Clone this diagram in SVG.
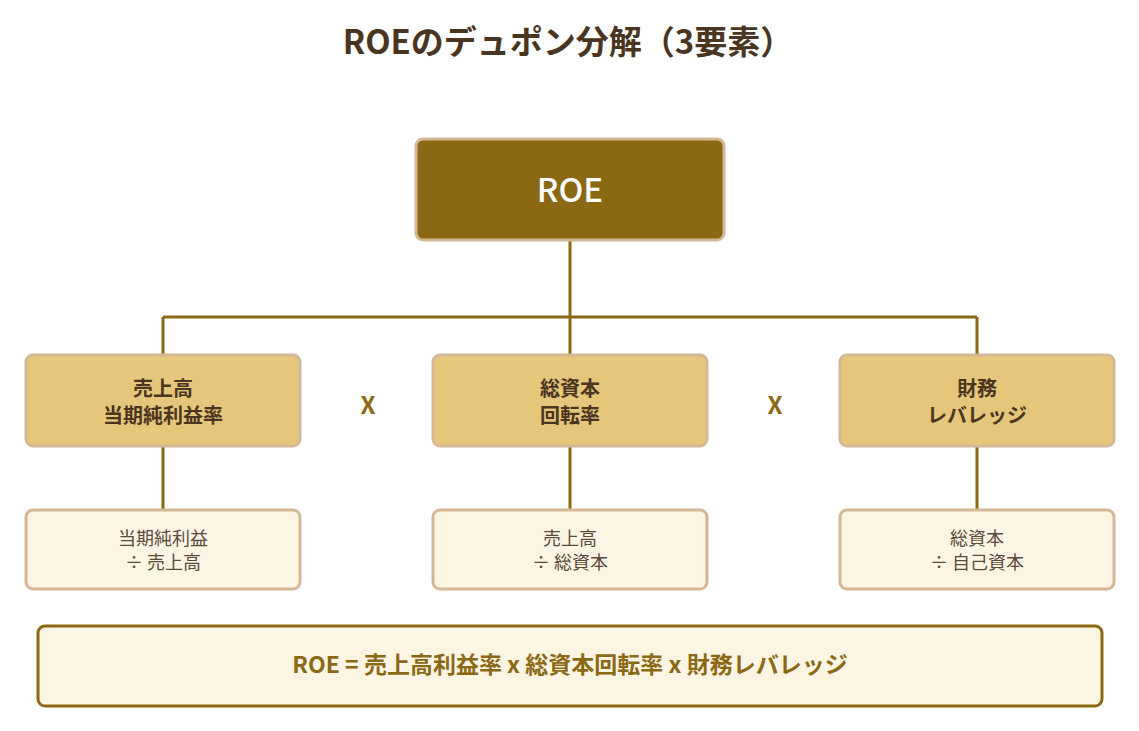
<svg xmlns="http://www.w3.org/2000/svg" width="1139" height="731" viewBox="0 0 1139 731">
<style>
text{font-family:"Noto Sans CJK JP","Noto Sans",sans-serif;text-anchor:middle;dominant-baseline:central}
.title{font-size:33px;font-weight:bold;fill:#4a3520}
.root{fill:#8B6914;stroke:#D4B896;stroke-width:3}
.rootT{font-size:33px;font-weight:500;fill:#ffffff}
.mid{fill:#E6C67A;stroke:#D4B896;stroke-width:3}
.midT{font-size:20px;font-weight:bold;fill:#4a3520}
.leaf{fill:#FDF5E4;stroke:#D4B896;stroke-width:3}
.leafT{font-size:18px;fill:#5a4a3a}
.op{font-size:24px;font-weight:bold;fill:#8B6914}
.conn{stroke:#8B6914;stroke-width:3;fill:none}
.formula{fill:#FDF5E4;stroke:#8B6914;stroke-width:3}
.formT{font-size:23px;font-weight:bold;fill:#8B6914}
</style>
<rect width="1139" height="731" fill="#ffffff"/>
<text class="title" x="568" y="40">ROEのデュポン分解（3要素）</text>
<g id="connectors">
<path class="conn" d="M570 240V317M163 317H977M163 317V355M570 317V355M977 317V355"/>
<path class="conn" d="M163 446V510M570 446V510M977 446V510"/>
</g>
<g id="roe"><rect class="root" x="416" y="139" width="308" height="101" rx="7"/><text class="rootT" x="570" y="188">ROE</text></g>
<g id="margin"><rect class="mid" x="26" y="355" width="274" height="91" rx="7"/><text class="midT" x="163" y="387">売上高</text><text class="midT" x="163" y="414">当期純利益率</text></g>
<g id="turnover"><rect class="mid" x="433" y="355" width="274" height="91" rx="7"/><text class="midT" x="570" y="387">総資本</text><text class="midT" x="570" y="414">回転率</text></g>
<g id="leverage"><rect class="mid" x="840" y="355" width="274" height="91" rx="7"/><text class="midT" x="977" y="387">財務</text><text class="midT" x="977" y="414">レバレッジ</text></g>
<g id="op1"><text class="op" x="368" y="403">X</text></g>
<g id="op2"><text class="op" x="775" y="403">X</text></g>
<g id="margin-def"><rect class="leaf" x="26" y="510" width="274" height="79" rx="7"/><text class="leafT" x="163" y="537">当期純利益</text><text class="leafT" x="163" y="561">÷ 売上高</text></g>
<g id="turnover-def"><rect class="leaf" x="433" y="510" width="274" height="79" rx="7"/><text class="leafT" x="570" y="537">売上高</text><text class="leafT" x="570" y="561">÷ 総資本</text></g>
<g id="leverage-def"><rect class="leaf" x="840" y="510" width="274" height="79" rx="7"/><text class="leafT" x="977" y="537">総資本</text><text class="leafT" x="977" y="561">÷ 自己資本</text></g>
<g id="formula"><rect class="formula" x="38" y="626" width="1064" height="80" rx="7"/><text class="formT" x="570" y="663">ROE = 売上高利益率 x 総資本回転率 x 財務レバレッジ</text></g>
</svg>
